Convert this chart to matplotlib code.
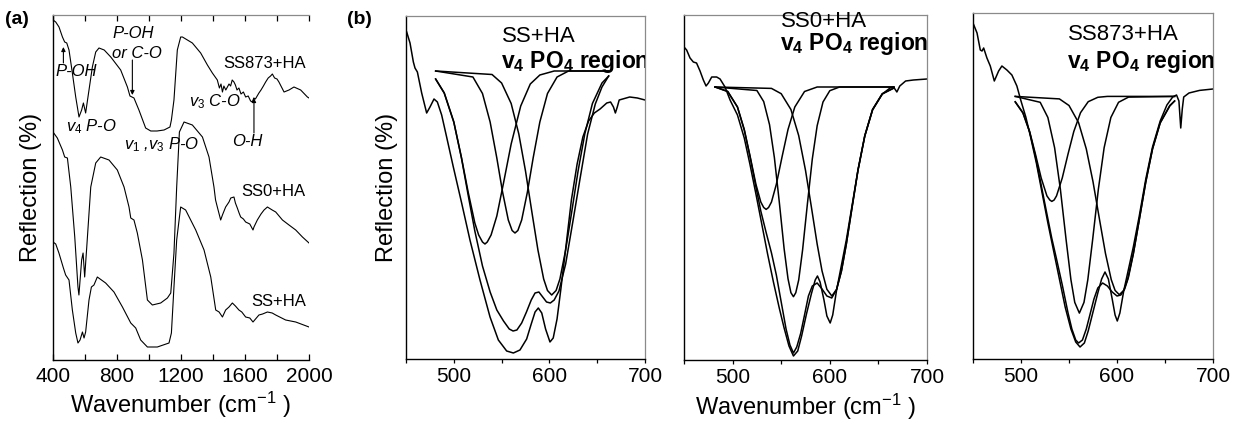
import matplotlib
matplotlib.use("Agg")
import matplotlib.pyplot as plt
from matplotlib.ticker import MultipleLocator, NullLocator

plt.rcParams['font.family'] = ['Liberation Sans', 'DejaVu Sans']
plt.rcParams['mathtext.fontset'] = 'custom'
plt.rcParams['mathtext.rm'] = 'Liberation Sans'
plt.rcParams['mathtext.it'] = 'Liberation Sans:italic'
plt.rcParams['mathtext.bf'] = 'Liberation Sans:bold'
plt.rcParams['mathtext.default'] = 'regular'

# ---------------- (a) full spectra, offset (a.u.) ----------------
ss873_wn = [400, 417, 437.5, 459, 473, 486, 500, 521, 542, 562.5, 579, 590, 604, 625, 646, 667, 687.5,
            720, 761, 823, 865, 881, 906, 937, 979, 1011, 1050, 1094, 1131, 1140, 1156, 1177, 1198, 1209,
            1271, 1323, 1365, 1396, 1427, 1440, 1450, 1459, 1468, 1480, 1490, 1500, 1510, 1520, 1531,
            1540, 1550, 1562, 1575, 1590, 1604, 1620, 1635, 1646, 1655, 1665, 1687, 1700, 1715, 1729,
            1745, 1760, 1771, 1785, 1800, 1812, 1844, 1875, 1906, 1948, 1990, 2000]
ss873_y = [340, 338, 333, 323, 318, 317, 310, 287, 263, 243, 250, 257, 247, 270, 293, 308, 312,
           310, 303, 290, 273, 264, 262, 250, 232, 229, 229, 230, 233, 240, 260, 310, 323, 323,
           317, 307, 295, 287, 280, 272, 276, 268, 274, 270, 273, 276, 274, 280, 278,
           275, 270, 272, 266, 268, 263, 264, 259, 258, 262, 261, 267, 270, 274, 278,
           282, 284, 286, 282, 281, 278, 268, 270, 273, 270, 263, 262]

ss0_wn = [400, 427, 459, 473, 490, 511, 536, 556, 562, 579, 588, 598, 611, 636, 667, 698, 750, 802,
          844, 875, 886, 906, 927, 959, 990, 1021, 1073, 1115, 1136, 1156, 1173, 1190, 1219, 1271,
          1334, 1375, 1406, 1416, 1427, 1448, 1459, 1479, 1500, 1511, 1531, 1540, 1552, 1563, 1573,
          1590, 1604, 1630, 1650, 1656, 1677, 1700, 1719, 1740, 1750, 1770, 1792, 1834, 1875, 1917,
          1959, 2000]
ss0_y = [228, 222, 210, 203, 202, 173, 123, 73, 65, 100, 107, 83, 113, 173, 197, 203, 200, 190,
         173, 153, 142, 140, 127, 100, 60, 55, 57, 62, 67, 107, 173, 228, 238, 235,
         223, 203, 173, 160, 153, 140, 145, 153, 158, 162, 163, 157, 152, 147, 143,
         141, 138, 136, 130, 133, 140, 146, 150, 153, 152, 150, 148, 140, 135, 130,
         123, 117]

ss_wn = [400, 417, 437, 465, 479, 500, 521, 542, 556, 569, 584, 594, 604, 625, 640, 656, 677, 729,
         781, 834, 886, 917, 948, 990, 1052, 1125, 1140, 1156, 1173, 1188, 1198, 1229, 1292, 1344,
         1386, 1417, 1438, 1459, 1479, 1500, 1521, 1540, 1562, 1580, 1604, 1630, 1650, 1687, 1710,
         1740, 1770, 1792, 1854, 1917, 2000]
ss_y = [118, 116, 107, 92, 85, 80, 50, 27, 17, 20, 28, 22, 28, 60, 73, 75, 83, 77,
        68, 53, 37, 32, 20, 13, 13, 17, 27, 73, 120, 140, 153, 150, 130, 110,
        83, 50, 48, 43, 50, 53, 57, 54, 50, 48, 43, 42, 38, 45, 46,
        48, 47, 45, 40, 38, 33]

# ---------------- (b) v4 PO4 region, measured + fitted bands ----------------
# SS+HA
p1_meas_wn = [450.7, 454.2, 457.7, 459.4, 461.9, 466.4, 471.6, 475.1, 479.3, 482.8, 487.3, 492.5,
              499.5, 508.2, 516.9, 527.4, 537.9, 546.6, 555.3, 562.3, 569.2, 576.2, 581, 585, 588.4,
              592, 596, 600.6, 604, 608, 612, 617, 623, 629, 635, 641, 647, 653, 660, 664, 667,
              669, 671, 673, 684, 692, 700]
p1_meas = [327, 316, 297, 291, 287, 266, 246, 252, 260, 257, 244, 222,
           192, 156, 119, 79, 42, 19, 8, 6, 9, 20, 35, 47, 51,
           46, 30, 17, 21, 40, 70, 110, 159, 195, 222, 238, 246, 250, 256, 257, 252,
           246, 252, 259, 262, 261, 259]
p1_env_wn = [481, 490, 500, 508, 515, 522, 530, 538, 545, 552, 558, 562, 566, 571, 576, 581, 585,
             589, 593, 597, 601, 605, 610, 617, 625, 632, 640, 648, 655, 662]
p1_env = [280, 266, 237, 201, 164, 128, 93, 67, 49, 38, 30, 28, 29, 36, 47, 59, 66,
          67, 62, 57, 56, 59, 68, 95, 140, 180, 225, 255, 272, 283]
p1_b1_wn = [481, 490, 500, 508, 515, 522, 526, 530, 532.6, 535, 539, 545, 552, 560, 570, 580, 590,
            605, 662]
p1_b1 = [280, 266, 237, 201.5, 167, 136, 124, 117, 115, 117, 124, 143, 176, 215, 253, 275, 284,
         288, 288]
p1_b2_wn = [481, 520, 530, 538, 545, 551, 557, 561, 564, 567, 571, 577, 583, 590, 598, 608, 620, 662]
p1_b2 = [288, 282, 265.5, 237, 201, 167, 139, 128.5, 126, 128.5, 139, 167, 201, 237, 265.5, 282, 288, 288]
p1_b3_wn = [481, 540, 550, 560, 568, 575, 582, 588, 594, 598, 602.4, 607, 611, 617, 623, 630, 637,
            645, 655, 662]
p1_b3 = [288, 284.5, 276, 255.5, 225, 188, 145, 109, 80, 68.5, 64, 68.5, 80, 109, 145, 188, 225,
         255.5, 276, 283]

# SS0+HA
p2_meas_wn = [450, 452.7, 456.2, 459.6, 462.9, 466.5, 469.9, 472.7, 475.1, 478.5, 483.6, 487.1,
              492.2, 497.4, 505, 512, 518, 524, 530, 536, 542, 548, 553, 558, 562.6, 567, 571, 576,
              581, 585, 587.3, 590, 594, 597, 600.4, 603, 607, 612, 617, 623, 629, 636, 644, 654,
              662, 665.6, 669, 672, 678, 686, 700]
p2_meas = [313, 310, 302, 298, 297, 289, 280, 274, 277, 283, 283, 281,
           273, 260, 245, 222, 195, 166, 136, 106, 78, 52, 32, 14, 4, 9, 24, 46,
           66, 80, 84, 78, 60, 44, 37, 45, 70, 95, 120, 155, 190, 224, 250, 266,
           272, 273, 268, 274, 279, 280, 281]
p2_env_wn = [482, 495, 505, 512, 518, 524, 529, 534.5, 540, 545, 550, 555, 559, 562.6, 566, 570,
             574, 578, 582, 587, 592, 597, 602, 607, 612, 617, 623, 629, 636, 644, 654, 666]
p2_env = [273, 268.5, 253, 230, 203, 173, 149, 127.5, 107, 85, 58, 31, 15, 7, 13, 26.5,
          45, 64, 74, 77, 71, 64, 62, 70.5, 89, 116, 153, 190, 224, 250.5, 266, 272]
p2_b1_wn = [482, 495, 505, 512, 518, 524, 529, 532, 534.5, 537, 540, 545, 551, 557, 564, 574, 587, 666]
p2_b1 = [273, 268.5, 253, 230.5, 203.7, 175.7, 158, 152.5, 150.6, 152.5, 158, 175.7, 203.7, 230.5,
         253, 268.5, 273, 273]
p2_b2_wn = [482, 525, 532, 538, 543, 548, 553, 557, 560, 562.6, 565, 568, 572, 577, 582, 587, 593,
            600, 610, 666]
p2_b2 = [273, 269.5, 258.4, 235.3, 202.3, 158.3, 111.3, 81.3, 67.3, 63.3, 67.3, 80, 110, 156.5, 201,
         234.3, 258, 269.3, 273, 273]
p2_b3_wn = [482, 540, 550, 560, 568, 575, 581, 587, 592, 597, 602.1, 607, 612, 617, 623, 629, 636,
            644, 654, 666]
p2_b3 = [273, 271.6, 266.3, 250.5, 224.4, 189.7, 153.3, 115.9, 89.1, 70.7, 64, 70.7, 89.1, 115.9,
         153.3, 189.7, 224.4, 250.5, 266.3, 272]

# SS873+HA
p3_meas_wn = [450, 454.2, 457.6, 459.4, 461.1, 464.5, 468, 472.2, 476.7, 480.1, 485.3, 490.5, 495.7,
              500, 505, 510, 516, 522, 528, 534, 540, 546, 552, 557, 561.5, 566, 570, 575, 580, 584,
              587.5, 591, 595, 598, 600.3, 603, 607, 612, 617, 623, 630, 637, 645, 652, 658, 662,
              664.5, 666.4, 668, 669.5, 675, 686, 700]
p3_meas = [336, 326, 309, 308, 311, 301, 293, 278, 288, 293, 289, 284, 273,
           258, 242, 222, 196, 166, 136, 108, 80, 52, 30, 17, 12, 16, 28, 47, 66, 80,
           87, 80, 60, 44, 38, 46, 68, 90, 112, 142, 180, 212, 238, 254, 262, 264,
           258, 231, 250, 262, 266, 268.6, 270]
p3_env_wn = [494, 502, 509, 515, 521, 527, 532, 537, 543, 549, 553, 557, 560, 564, 568, 572, 576,
             580, 585, 590, 595, 600, 604, 608, 612, 617, 623, 630, 637, 645, 655, 660]
p3_env = [257, 246, 227, 203, 174, 145, 121, 100, 74, 46, 30, 19, 16, 19, 30, 45, 60,
          71, 76, 73, 67, 63, 64, 70, 82, 105, 138, 177, 210, 236, 253, 258]
p3_b1_wn = [494, 502, 509, 515, 521, 527, 530, 532.1, 534.5, 537, 543, 549, 555, 562, 570, 580, 590, 660]
p3_b1 = [257.3, 246.3, 227.5, 205, 181.1, 163.1, 159, 157.6, 159, 163.1, 181.1, 205, 227.5, 246.3,
         257.3, 261.7, 262.6, 262.6]
p3_b2_wn = [494, 520, 528, 535, 541, 547, 552, 556, 560.8, 565.6, 569.6, 574.6, 580.6, 586.6,
            593.6, 601.6, 612, 660]
p3_b2 = [262.6, 256.7, 241.5, 211.3, 169.9, 119.1, 79.3, 56.6, 45.9, 56.6, 79.3, 119.1, 169.9,
         211.3, 241.5, 256.7, 261.9, 262.6]
p3_b3_wn = [494, 540, 550, 560, 568, 575, 582, 588, 594, 598, 602.4, 607, 611, 617, 623, 630, 637,
            645, 655, 660]
p3_b3 = [262.6, 260.1, 253.5, 236.3, 210.1, 177.3, 138.3, 105.5, 79.4, 68.6, 64.3, 68.6, 79.4,
         105.5, 138.3, 177.3, 210.1, 236.3, 253.5, 258]

W, H = 1233, 421
fig = plt.figure(figsize=(W / 100, H / 100), dpi=100)


def box(l, t, r, b):
    return [l / W, 1 - b / H, (r - l) / W, (b - t) / H]


def style(ax, gray_right=True):
    ax.yaxis.set_major_locator(NullLocator())
    for s in ['left', 'bottom']:
        ax.spines[s].set_linewidth(1.0)
        ax.spines[s].set_color('black')
    ax.spines['top'].set_color('#8a8a8a')
    ax.spines['top'].set_linewidth(0.9)
    ax.spines['right'].set_color('#8a8a8a')
    ax.spines['right'].set_linewidth(0.9)
    ax.spines['right'].set_visible(gray_right)


# ---- panel (a)
ax = fig.add_axes(box(53, 15, 309, 360))
ax.plot(ss873_wn, ss873_y, color='black', lw=0.8)
ax.plot(ss0_wn, ss0_y, color='black', lw=0.8)
ax.plot(ss_wn, ss_y, color='black', lw=0.8)
ax.set_xlim(400, 2000)
ax.set_ylim(0, 345)
style(ax, gray_right=False)
ax.xaxis.set_major_locator(MultipleLocator(400))
ax.xaxis.set_minor_locator(MultipleLocator(200))
ax.tick_params(axis='x', which='both', direction='in', length=4, width=0.9, top=True,
               labelsize=15, pad=5)
ax.set_xlabel('Wavenumber (cm$^{-1}$ )', fontsize=17, labelpad=3)
ax.set_ylabel('Reflection (%)', fontsize=17, labelpad=8)

it = dict(fontsize=12, style='italic')
ax.text(548, 288, 'P-OH', ha='center', va='center', **it)
ax.text(771, 326, 'P-OH', ha='left', va='center', **it)
ax.text(771, 306, 'or C-O', ha='left', va='center', **it)
ax.text(479, 233, r'$\mathit{v_4}$ P-O', ha='left', va='center', **it)
ax.text(844, 215, r'$\mathit{v_1}$ ,$\mathit{v_3}$ P-O', ha='left', va='center', **it)
ax.text(1250, 258, r'$\mathit{v_3}$ C-O', ha='left', va='center', **it)
ax.text(1521, 219, 'O-H', ha='left', va='center', **it)
arr = dict(arrowstyle='-|>', lw=0.8, color='black', mutation_scale=6, shrinkA=0, shrinkB=0)
ax.annotate('', xy=(465, 313), xytext=(465, 297), arrowprops=arr)
ax.annotate('', xy=(896, 265), xytext=(896, 300), arrowprops=arr)
ax.annotate('', xy=(1656, 262), xytext=(1656, 227), arrowprops=arr)
ax.text(1980, 297, 'SS873+HA', ha='right', va='center', fontsize=12)
ax.text(1980, 168, 'SS0+HA', ha='right', va='center', fontsize=12)
ax.text(1980, 58, 'SS+HA', ha='right', va='center', fontsize=12)

# ---- panels (b)
panels = [
    (box(406, 16, 645, 359), 343, 'SS+HA', 550, 317, 291,
     [(p1_meas_wn, p1_meas), (p1_env_wn, p1_env), (p1_b1_wn, p1_b1), (p1_b2_wn, p1_b2), (p1_b3_wn, p1_b3)]),
    (box(684, 15, 927, 360), 345, 'SS0+HA', 550, 333, 310,
     [(p2_meas_wn, p2_meas), (p2_env_wn, p2_env), (p2_b1_wn, p2_b1), (p2_b2_wn, p2_b2), (p2_b3_wn, p2_b3)]),
    (box(973, 13, 1213, 359), 346, 'SS873+HA', 549, 319, 291,
     [(p3_meas_wn, p3_meas), (p3_env_wn, p3_env), (p3_b1_wn, p3_b1), (p3_b2_wn, p3_b2), (p3_b3_wn, p3_b3)]),
]
axes_b = []
for rect, ytop, name, tx, ty1, ty2, curves in panels:
    ax = fig.add_axes(rect)
    for xs, ys in curves:
        ax.plot(xs, ys, color='black', lw=1.1)
    ax.set_xlim(450, 700)
    ax.set_ylim(0, ytop)
    style(ax)
    ax.xaxis.set_major_locator(MultipleLocator(100))
    ax.xaxis.set_minor_locator(MultipleLocator(50))
    ax.tick_params(axis='x', which='both', direction='out', length=3, width=0.9,
                   labelsize=15, pad=3)
    ax.text(tx, ty1, name, ha='left', va='baseline', fontsize=16)
    ax.text(tx - 1, ty2, r'v$_\mathbf{4}$ PO$_\mathbf{4}$ region', ha='left', va='baseline',
            fontsize=16.5, fontweight='bold', clip_on=True)
    axes_b.append(ax)

axes_b[0].set_ylabel('Reflection (%)', fontsize=17, labelpad=6)
axes_b[1].set_xlabel('Wavenumber (cm$^{-1}$ )', fontsize=17, labelpad=3)

fig.text(5 / W, 1 - 19 / H, '(a)', fontsize=14, fontweight='bold', va='center', ha='left')
fig.text(347 / W, 1 - 19 / H, '(b)', fontsize=14, fontweight='bold', va='center', ha='left')

fig.savefig('out.png', dpi=100)
